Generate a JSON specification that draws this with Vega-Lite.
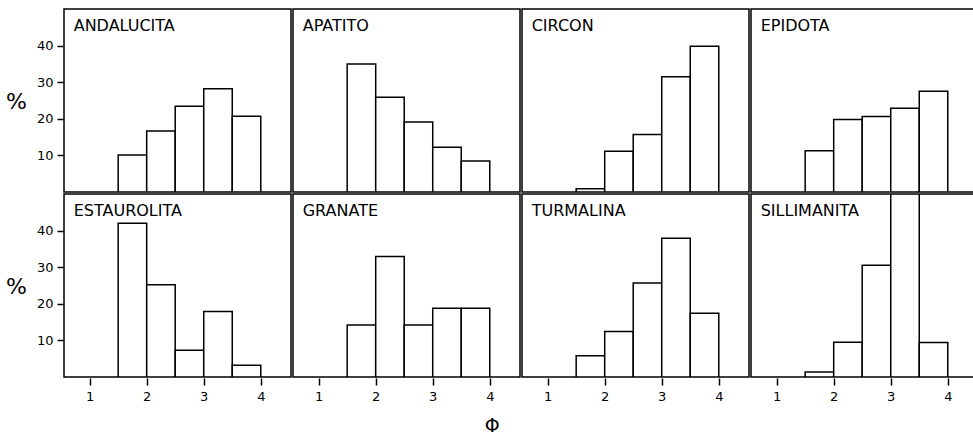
{
  "$schema": "https://vega.github.io/schema/vega-lite/v6.json",
  "padding": {"left": 5, "top": 8, "right": 0, "bottom": 2},
  "background": "white",
  "title": {"text": "Φ", "orient": "bottom", "anchor": "middle", "fontSize": 19, "font": "DejaVu Sans", "fontWeight": "normal", "color": "black", "offset": 14},
  "data": {"values": [
    {"mineral": "ANDALUCITA", "x0": 1.5, "x1": 2.0, "pct": 10.1},
    {"mineral": "ANDALUCITA", "x0": 2.0, "x1": 2.5, "pct": 16.7},
    {"mineral": "ANDALUCITA", "x0": 2.5, "x1": 3.0, "pct": 23.4},
    {"mineral": "ANDALUCITA", "x0": 3.0, "x1": 3.5, "pct": 28.2},
    {"mineral": "ANDALUCITA", "x0": 3.5, "x1": 4.0, "pct": 20.7},
    {"mineral": "APATITO", "x0": 1.5, "x1": 2.0, "pct": 35.0},
    {"mineral": "APATITO", "x0": 2.0, "x1": 2.5, "pct": 25.9},
    {"mineral": "APATITO", "x0": 2.5, "x1": 3.0, "pct": 19.1},
    {"mineral": "APATITO", "x0": 3.0, "x1": 3.5, "pct": 12.2},
    {"mineral": "APATITO", "x0": 3.5, "x1": 4.0, "pct": 8.5},
    {"mineral": "CIRCON", "x0": 1.5, "x1": 2.0, "pct": 0.9},
    {"mineral": "CIRCON", "x0": 2.0, "x1": 2.5, "pct": 11.1},
    {"mineral": "CIRCON", "x0": 2.5, "x1": 3.0, "pct": 15.7},
    {"mineral": "CIRCON", "x0": 3.0, "x1": 3.5, "pct": 31.5},
    {"mineral": "CIRCON", "x0": 3.5, "x1": 4.0, "pct": 39.8},
    {"mineral": "EPIDOTA", "x0": 1.5, "x1": 2.0, "pct": 11.3},
    {"mineral": "EPIDOTA", "x0": 2.0, "x1": 2.5, "pct": 19.8},
    {"mineral": "EPIDOTA", "x0": 2.5, "x1": 3.0, "pct": 20.6},
    {"mineral": "EPIDOTA", "x0": 3.0, "x1": 3.5, "pct": 22.9},
    {"mineral": "EPIDOTA", "x0": 3.5, "x1": 4.0, "pct": 27.5},
    {"mineral": "ESTAUROLITA", "x0": 1.5, "x1": 2.0, "pct": 42.0},
    {"mineral": "ESTAUROLITA", "x0": 2.0, "x1": 2.5, "pct": 25.2},
    {"mineral": "ESTAUROLITA", "x0": 2.5, "x1": 3.0, "pct": 7.3},
    {"mineral": "ESTAUROLITA", "x0": 3.0, "x1": 3.5, "pct": 17.9},
    {"mineral": "ESTAUROLITA", "x0": 3.5, "x1": 4.0, "pct": 3.2},
    {"mineral": "GRANATE", "x0": 1.5, "x1": 2.0, "pct": 14.2},
    {"mineral": "GRANATE", "x0": 2.0, "x1": 2.5, "pct": 32.9},
    {"mineral": "GRANATE", "x0": 2.5, "x1": 3.0, "pct": 14.2},
    {"mineral": "GRANATE", "x0": 3.0, "x1": 3.5, "pct": 18.8},
    {"mineral": "GRANATE", "x0": 3.5, "x1": 4.0, "pct": 18.8},
    {"mineral": "TURMALINA", "x0": 1.5, "x1": 2.0, "pct": 5.8},
    {"mineral": "TURMALINA", "x0": 2.0, "x1": 2.5, "pct": 12.4},
    {"mineral": "TURMALINA", "x0": 2.5, "x1": 3.0, "pct": 25.7},
    {"mineral": "TURMALINA", "x0": 3.0, "x1": 3.5, "pct": 37.9},
    {"mineral": "TURMALINA", "x0": 3.5, "x1": 4.0, "pct": 17.4},
    {"mineral": "SILLIMANITA", "x0": 1.5, "x1": 2.0, "pct": 1.4},
    {"mineral": "SILLIMANITA", "x0": 2.0, "x1": 2.5, "pct": 9.5},
    {"mineral": "SILLIMANITA", "x0": 2.5, "x1": 3.0, "pct": 30.5},
    {"mineral": "SILLIMANITA", "x0": 3.0, "x1": 3.5, "pct": 50.0},
    {"mineral": "SILLIMANITA", "x0": 3.5, "x1": 4.0, "pct": 9.4}
  ]},
  "facet": {
    "field": "mineral", "type": "nominal",
    "sort": ["ANDALUCITA", "APATITO", "CIRCON", "EPIDOTA", "ESTAUROLITA", "GRANATE", "TURMALINA", "SILLIMANITA"],
    "title": null,
    "header": {"labelExpr": "''", "labelFontSize": 0, "labelPadding": 0, "labelLimit": 1, "title": null, "titlePadding": 0}
  },
  "columns": 4,
  "spacing": 0,
  "spec": {
    "width": 227,
    "height": 183,
    "layer": [
      {
        "mark": {"type": "bar", "fill": "white", "stroke": "black", "strokeWidth": 1.5, "clip": true},
        "encoding": {
          "x": {"field": "x0", "type": "quantitative", "scale": {"domain": [0.55, 4.53], "nice": false, "zero": false},
                "axis": {"values": [1, 2, 3, 4], "format": "d", "title": null}},
          "x2": {"field": "x1"},
          "y": {"field": "pct", "type": "quantitative", "scale": {"domain": [0, 50], "nice": false},
                "axis": {"values": [10, 20, 30, 40], "title": "%", "titleAngle": 0, "titleFontSize": 22, "titleFontWeight": "normal", "titleX": -47, "titleY": 92, "titleAlign": "center", "titleBaseline": "middle"}},
          "y2": {"datum": 0}
        }
      },
      {
        "transform": [{"filter": {"field": "x0", "equal": 1.5}}],
        "mark": {"type": "text", "align": "left", "baseline": "alphabetic", "fontSize": 16, "font": "DejaVu Sans", "color": "black"},
        "encoding": {
          "x": {"datum": 0.72, "type": "quantitative"},
          "y": {"datum": 44, "type": "quantitative"},
          "text": {"field": "mineral"}
        }
      }
    ]
  },
  "config": {
    "view": {"stroke": "black", "strokeWidth": 1.5},
    "axis": {"domain": false, "grid": false, "tickColor": "black", "tickWidth": 1.5, "labelColor": "black", "labelFont": "DejaVu Sans", "labelFontSize": 13, "titleColor": "black", "titleFont": "DejaVu Sans"},
    "axisX": {"tickSize": 7, "labelPadding": 5},
    "axisY": {"tickSize": 6, "labelPadding": 4}
  }
}
